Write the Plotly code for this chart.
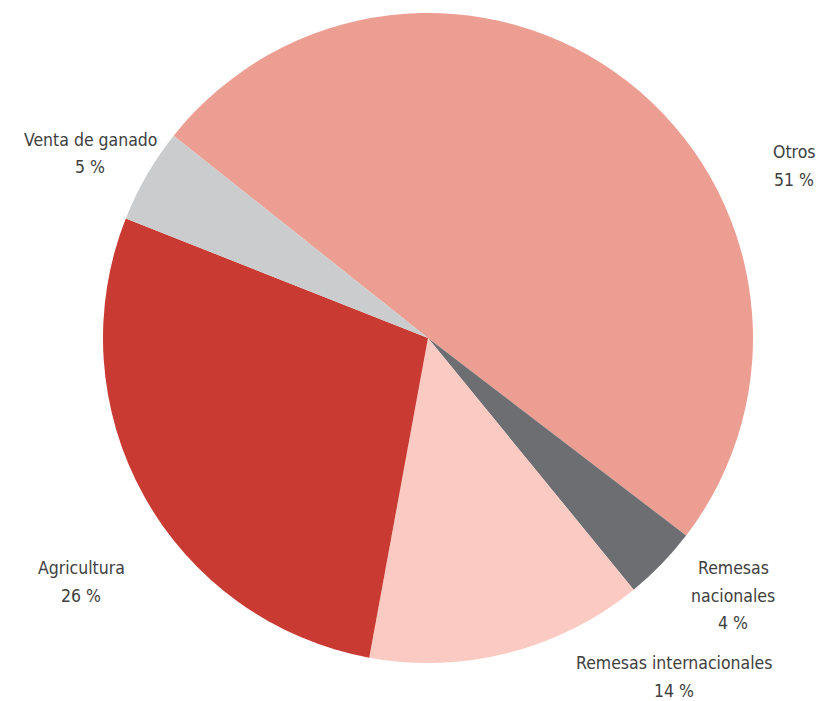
import plotly.graph_objects as go

# Shares as drawn (slice angles) and the printed labels
categories = ["Otros", "Remesas nacionales", "Remesas internacionales", "Agricultura", "Venta de ganado"]
shares = [49.7, 3.7, 13.8, 28.1, 4.7]
pct_labels = ["51 %", "4 %", "14 %", "26 %", "5 %"]
label_lines = [
    ["Otros"],
    ["Remesas", "nacionales"],
    ["Remesas internacionales"],
    ["Agricultura"],
    ["Venta de ganado"],
]
colors = ["#ED9E92", "#6D6E71", "#FBCBC3", "#C83A32", "#CBCCCD"]

# label anchor (x px, y px of first line) for each category
label_pos = [(794, 152), (733, 568), (674, 663), (81, 568), (90, 140)]

W, H = 818, 701
cx, cy, r = 428, 338, 325

fig = go.Figure(
    go.Pie(
        labels=categories,
        values=shares,
        marker=dict(colors=colors, line=dict(width=0)),
        sort=False,
        direction="clockwise",
        rotation=-51.5,
        textinfo="none",
        hoverinfo="label+percent",
        showlegend=False,
        domain=dict(
            x=[(cx - r) / W, (cx + r) / W],
            y=[1 - (cy + r) / H, 1 - (cy - r) / H],
        ),
    )
)

line_h = 27.5
font = dict(family="Liberation Sans Narrow, DejaVu Sans Condensed, sans-serif", size=17.5, color="#404040")
annotations = []
for lines, pct, (x, y) in zip(label_lines, pct_labels, label_pos):
    for i, t in enumerate(lines + [pct]):
        annotations.append(
            dict(
                x=x / W,
                y=1 - (y + i * line_h) / H,
                xref="paper",
                yref="paper",
                text=t,
                showarrow=False,
                xanchor="center",
                yanchor="middle",
                font=font,
            )
        )

fig.update_layout(
    width=W,
    height=H,
    margin=dict(l=0, r=0, t=0, b=0),
    paper_bgcolor="white",
    plot_bgcolor="white",
    annotations=annotations,
)

fig.write_html(
    "out.html",
    config={"displayModeBar": False},
    post_script="document.body.style.margin='0';",
)
